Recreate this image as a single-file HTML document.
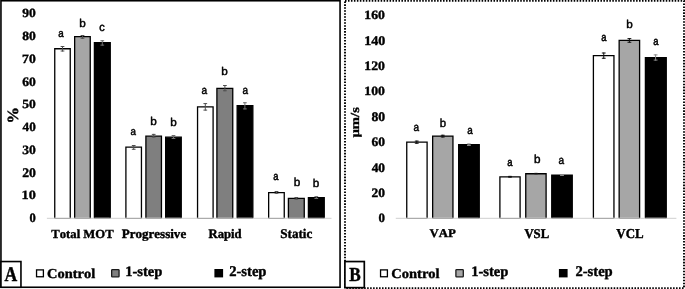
<!DOCTYPE html>
<html><head><meta charset="utf-8"><title>chart</title>
<style>
html,body{margin:0;padding:0;background:#fff;}
body{width:685px;height:289px;overflow:hidden;}
svg{display:block;will-change:transform}
text{font-family:"Liberation Serif",serif;font-weight:bold;fill:#000;font-kerning:none;text-rendering:geometricPrecision;stroke:#000;stroke-width:0.4px;stroke-linejoin:round}
.s{font-family:"Liberation Sans",sans-serif;font-weight:normal;stroke:#000;stroke-width:0.45px}
.sb{font-family:"Liberation Sans",sans-serif;font-weight:bold}
</style></head><body>
<svg width="685" height="289" viewBox="0 0 685 289">
<rect width="685" height="289" fill="#fff"/>

<rect x="0.95" y="0.75" width="339.1" height="286.5" fill="none" stroke="#000" stroke-width="1.6"/>
<line x1="46.9" x2="331.5" y1="218.3" y2="218.3" stroke="#cfcfcf" stroke-width="1"/>
<text transform="translate(29.41,222.45) scale(1,1.031)" font-size="12.51">0</text>
<text transform="translate(21.55,199.41) scale(1,0.891)" font-size="14.26">10</text>
<text transform="translate(22.21,176.68) scale(1,0.957)" font-size="13.74">20</text>
<text transform="translate(22.26,153.93) scale(1,0.935)" font-size="13.62">30</text>
<text transform="translate(22.58,131.45) scale(1,0.966)" font-size="13.14">40</text>
<text transform="translate(22.27,108.28) scale(1,0.925)" font-size="13.54">50</text>
<text transform="translate(22.27,85.9) scale(1,0.951)" font-size="13.59">60</text>
<text transform="translate(22.11,63.07) scale(1,0.939)" font-size="13.61">70</text>
<text transform="translate(22.17,40.03) scale(1,0.929)" font-size="13.63">80</text>
<text transform="translate(22.34,17.37) scale(1,0.932)" font-size="13.56">90</text>
<text transform="translate(17.67,123.53) rotate(-90) scale(1,0.945)" font-size="16.5">%</text>
<path d="M54.75 217.85V48.75H70.25V217.85" fill="#fff" stroke="#000" stroke-width="1.3"/>
<line x1="54.4" x2="70.6" y1="218.3" y2="218.3" stroke="#9a9a9a" stroke-width="0.9"/>
<path d="M62.5 46V51.5M60.65 46.5h3.7M60.65 51h3.7" stroke="#505050" stroke-width="1" fill="none"/>
<text class="s" transform="translate(58.33,37.32) scale(1,1.164)" font-size="9.75">a</text>
<path d="M74.65 217.85V36.65H90.25V217.85" fill="#a6a6a6" stroke="#000" stroke-width="1.3"/>
<line x1="74.3" x2="90.6" y1="218.3" y2="218.3" stroke="#9a9a9a" stroke-width="0.9"/>
<path d="M82.5 35V38.75M80.65 35.5h3.7M80.65 38.25h3.7" stroke="#505050" stroke-width="1" fill="none"/>
<text class="s" transform="translate(79.26,26.76) scale(1,0.968)" font-size="11.7">b</text>
<path d="M94.4 217.85V42.75H110.25V217.85" fill="#000" stroke="#000" stroke-width="1.3"/>
<line x1="94.05" x2="110.6" y1="218.3" y2="218.3" stroke="#9a9a9a" stroke-width="0.9"/>
<path d="M102.3 40.25V45.6M100.45 40.75h3.7M100.45 45.1h3.7" stroke="#6e6e6e" stroke-width="1" fill="none"/>
<text class="s" transform="translate(99.19,30.54) scale(1,1.051)" font-size="10.99">c</text>
<path d="M125.9 217.85V147.15H141.45V217.85" fill="#fff" stroke="#000" stroke-width="1.3"/>
<line x1="125.55" x2="141.8" y1="218.3" y2="218.3" stroke="#9a9a9a" stroke-width="0.9"/>
<path d="M133.7 145V149.75M131.85 145.5h3.7M131.85 149.25h3.7" stroke="#505050" stroke-width="1" fill="none"/>
<text class="s" transform="translate(130.43,135.48) scale(1,1.119)" font-size="9.75">a</text>
<path d="M145.9 217.85V136.15H161.45V217.85" fill="#7f7f7f" stroke="#000" stroke-width="1.3"/>
<line x1="145.55" x2="161.8" y1="218.3" y2="218.3" stroke="#9a9a9a" stroke-width="0.9"/>
<path d="M153.7 133.9V137.6M151.85 134.4h3.7M151.85 137.1h3.7" stroke="#505050" stroke-width="1" fill="none"/>
<text class="s" transform="translate(150.37,125.48) scale(1,0.965)" font-size="11.71">b</text>
<path d="M165.65 217.85V137.15H181.25V217.85" fill="#000" stroke="#000" stroke-width="1.3"/>
<line x1="165.3" x2="181.6" y1="218.3" y2="218.3" stroke="#9a9a9a" stroke-width="0.9"/>
<path d="M173.5 135V139M171.65 135.5h3.7M171.65 138.5h3.7" stroke="#6e6e6e" stroke-width="1" fill="none"/>
<text class="s" transform="translate(170.26,125.76) scale(1,0.968)" font-size="11.7">b</text>
<path d="M197.55 217.85V106.9H213.1V217.85" fill="#fff" stroke="#000" stroke-width="1.3"/>
<line x1="197.2" x2="213.45" y1="218.3" y2="218.3" stroke="#9a9a9a" stroke-width="0.9"/>
<path d="M205.3 103.1V110.6M203.45 103.6h3.7M203.45 110.1h3.7" stroke="#505050" stroke-width="1" fill="none"/>
<text class="s" transform="translate(201.6,93.62) scale(1,1.132)" font-size="10.09">a</text>
<path d="M216.9 217.85V88.4H232.75V217.85" fill="#7f7f7f" stroke="#000" stroke-width="1.3"/>
<line x1="216.55" x2="233.1" y1="218.3" y2="218.3" stroke="#9a9a9a" stroke-width="0.9"/>
<path d="M224.9 85V91.25M223.05 85.5h3.7M223.05 90.75h3.7" stroke="#505050" stroke-width="1" fill="none"/>
<text class="s" transform="translate(221.23,75.43) scale(1,0.962)" font-size="11.7">b</text>
<path d="M237.15 217.85V105.65H252.85V217.85" fill="#000" stroke="#000" stroke-width="1.3"/>
<line x1="236.8" x2="253.2" y1="218.3" y2="218.3" stroke="#9a9a9a" stroke-width="0.9"/>
<path d="M244.9 102.25V109.4M243.05 102.75h3.7M243.05 108.9h3.7" stroke="#6e6e6e" stroke-width="1" fill="none"/>
<text class="s" transform="translate(242.51,93.57) scale(1,1.174)" font-size="9.94">a</text>
<path d="M268.65 217.85V192.55H284.25V217.85" fill="#fff" stroke="#000" stroke-width="1.3"/>
<line x1="268.3" x2="284.6" y1="218.3" y2="218.3" stroke="#9a9a9a" stroke-width="0.9"/>
<path d="M276.5 191V193.75M274.65 191.5h3.7M274.65 193.25h3.7" stroke="#505050" stroke-width="1" fill="none"/>
<text class="s" transform="translate(273.14,179.95) scale(1,1.213)" font-size="9.4">a</text>
<path d="M288.4 217.85V198.4H304.25V217.85" fill="#7f7f7f" stroke="#000" stroke-width="1.3"/>
<line x1="288.05" x2="304.6" y1="218.3" y2="218.3" stroke="#9a9a9a" stroke-width="0.9"/>
<path d="M296.3 197V199.6M294.45 197.5h3.7M294.45 199.1h3.7" stroke="#505050" stroke-width="1" fill="none"/>
<text class="s" transform="translate(293.76,185.71) scale(1,0.985)" font-size="11.79">b</text>
<path d="M308.4 217.85V197.55H324.25V217.85" fill="#000" stroke="#000" stroke-width="1.3"/>
<line x1="308.05" x2="324.6" y1="218.3" y2="218.3" stroke="#9a9a9a" stroke-width="0.9"/>
<path d="M316.3 196.1V199M314.45 196.6h3.7M314.45 198.5h3.7" stroke="#6e6e6e" stroke-width="1" fill="none"/>
<text class="s" transform="translate(312.87,187.48) scale(1,0.988)" font-size="11.69">b</text>
<text transform="translate(51.29,237.67) scale(1,0.973)" font-size="12.7">Total MOT</text>
<text transform="translate(121.7,237.76) scale(1,0.988)" font-size="13.05">Progressive</text>
<text transform="translate(208.56,237.81) scale(1,1.024)" font-size="12.67">Rapid</text>
<text transform="translate(280.18,237.87) scale(1,1.013)" font-size="13.16">Static</text>
<rect x="0.95" y="261.55" width="20" height="25.7" fill="#fff" stroke="#000" stroke-width="1.6"/>
<text transform="translate(4.46,281.03) scale(1,1.190)" font-size="17.59">A</text>
<rect x="36.55" y="269.9" width="6.85" height="6.85" fill="#fff" stroke="#000" stroke-width="1.3"/>
<text transform="translate(47.03,277.8) scale(1,0.944)" font-size="14.44">Control</text>
<rect x="111.65" y="269.65" width="7.4" height="7.2" rx="0.7" fill="#7f7f7f" stroke="#1a1a1a" stroke-width="1.3"/>
<text transform="translate(125.14,276.3) scale(1,0.998)" font-size="14.59">1-step</text>
<rect x="214.4" y="269" width="8.7" height="8.4" fill="#000"/>
<text transform="translate(229.17,276.41) scale(1,1.016)" font-size="14.62">2-step</text>
<rect x="345" y="0.9" width="339" height="287.2" fill="none" stroke="#000" stroke-width="1.9" stroke-dasharray="1.55 1.42"/>
<line x1="395.75" x2="676.4" y1="218.3" y2="218.3" stroke="#cfcfcf" stroke-width="1"/>
<text transform="translate(378.58,222.31) scale(1,1.011)" font-size="12.83">0</text>
<text transform="translate(371.47,196.92) scale(1,0.951)" font-size="13.47">20</text>
<text transform="translate(371.66,171.71) scale(1,0.972)" font-size="13.38">40</text>
<text transform="translate(371.5,146.49) scale(1,0.956)" font-size="13.47">60</text>
<text transform="translate(371.4,120.56) scale(1,0.955)" font-size="13.72">80</text>
<text transform="translate(364.37,95.21) scale(1,0.923)" font-size="13.76">100</text>
<text transform="translate(364.34,69.83) scale(1,0.940)" font-size="13.79">120</text>
<text transform="translate(364.18,44.58) scale(1,0.948)" font-size="14.06">140</text>
<text transform="translate(364.36,19.31) scale(1,0.923)" font-size="13.76">160</text>
<text transform="translate(359.23,137.61) rotate(-90) scale(1,0.841)" font-size="14.69">µm/s</text>
<path d="M406.75 217.85V142.15H427.1V217.85" fill="#fff" stroke="#000" stroke-width="1.3"/>
<line x1="406.4" x2="427.45" y1="218.3" y2="218.3" stroke="#9a9a9a" stroke-width="0.9"/>
<path d="M416.75 140.6V143.75M414.85 141.1h3.8M414.85 143.25h3.8" stroke="#111" stroke-width="1" fill="none"/>
<text class="s" transform="translate(413.48,131) scale(1,1.152)" font-size="9.96">a</text>
<path d="M432.65 217.85V136.05H452.95V217.85" fill="#a6a6a6" stroke="#000" stroke-width="1.3"/>
<line x1="432.3" x2="453.3" y1="218.3" y2="218.3" stroke="#9a9a9a" stroke-width="0.9"/>
<path d="M442.75 134.75V137.5M440.85 135.25h3.8M440.85 137h3.8" stroke="#111" stroke-width="1" fill="none"/>
<text class="s" transform="translate(439.77,126.78) scale(1,1.038)" font-size="11.35">b</text>
<path d="M458.65 217.85V144.65H479.25V217.85" fill="#000" stroke="#000" stroke-width="1.3"/>
<line x1="458.3" x2="479.6" y1="218.3" y2="218.3" stroke="#9a9a9a" stroke-width="0.9"/>
<path d="M468.9 143.5V146M467 144h3.8M467 145.5h3.8" stroke="#8a8a8a" stroke-width="1" fill="none"/>
<text class="s" transform="translate(467.24,134.05) scale(1,1.151)" font-size="9.88">a</text>
<path d="M499.9 217.85V176.9H520.1V217.85" fill="#fff" stroke="#000" stroke-width="1.3"/>
<line x1="499.55" x2="520.45" y1="218.3" y2="218.3" stroke="#9a9a9a" stroke-width="0.9"/>
<path d="M510 175.9V177.6M508.1 176.4h3.8M508.1 177.1h3.8" stroke="#111" stroke-width="1" fill="none"/>
<text class="s" transform="translate(507.33,166.23) scale(1,1.202)" font-size="9.46">a</text>
<path d="M525.75 217.85V173.75H546.1V217.85" fill="#a6a6a6" stroke="#000" stroke-width="1.3"/>
<line x1="525.4" x2="546.45" y1="218.3" y2="218.3" stroke="#9a9a9a" stroke-width="0.9"/>
<path d="M536 172.9V174.2M534.1 173.4h3.8M534.1 173.7h3.8" stroke="#111" stroke-width="1" fill="none"/>
<text class="s" transform="translate(533.99,162.8) scale(1,0.996)" font-size="11.72">b</text>
<path d="M551.75 217.85V175.05H572.25V217.85" fill="#000" stroke="#000" stroke-width="1.3"/>
<line x1="551.4" x2="572.6" y1="218.3" y2="218.3" stroke="#9a9a9a" stroke-width="0.9"/>
<path d="M562 174.3V176M560.1 174.8h3.8M560.1 175.5h3.8" stroke="#8a8a8a" stroke-width="1" fill="none"/>
<text class="s" transform="translate(558.62,163.64) scale(1,1.142)" font-size="10.03">a</text>
<path d="M593.4 217.85V55.65H613.95V217.85" fill="#fff" stroke="#000" stroke-width="1.3"/>
<line x1="593.05" x2="614.3" y1="218.3" y2="218.3" stroke="#9a9a9a" stroke-width="0.9"/>
<path d="M603.75 52.5V58.75M601.85 53h3.8M601.85 58.25h3.8" stroke="#111" stroke-width="1" fill="none"/>
<text class="s" transform="translate(601.14,40.95) scale(1,1.213)" font-size="9.4">a</text>
<path d="M619.15 217.85V40.4H639.6V217.85" fill="#a6a6a6" stroke="#000" stroke-width="1.3"/>
<line x1="618.8" x2="639.95" y1="218.3" y2="218.3" stroke="#9a9a9a" stroke-width="0.9"/>
<path d="M629.4 38.1V42.75M627.5 38.6h3.8M627.5 42.25h3.8" stroke="#111" stroke-width="1" fill="none"/>
<text class="s" transform="translate(626.26,28.36) scale(1,0.968)" font-size="11.7">b</text>
<path d="M645.4 217.85V57.55H666.25V217.85" fill="#000" stroke="#000" stroke-width="1.3"/>
<line x1="645.05" x2="666.6" y1="218.3" y2="218.3" stroke="#9a9a9a" stroke-width="0.9"/>
<path d="M655.6 54.4V60.6M653.7 54.9h3.8M653.7 60.1h3.8" stroke="#8a8a8a" stroke-width="1" fill="none"/>
<text class="s" transform="translate(653.35,45.19) scale(1,1.207)" font-size="9.42">a</text>
<text transform="translate(429.51,237.29) scale(1,0.938)" font-size="12.8">VAP</text>
<text transform="translate(524.41,237.54) scale(1,1.044)" font-size="12.75">VSL</text>
<text transform="translate(616.37,237.8) scale(1,1.053)" font-size="12.94">VCL</text>
<rect x="344.9" y="261.55" width="19.4" height="26.1" fill="#fff" stroke="#000" stroke-width="1.7"/>
<text transform="translate(349.31,281.25) scale(1,1.159)" font-size="17.18">B</text>
<rect x="380.55" y="269.9" width="6.85" height="6.85" fill="#fff" stroke="#000" stroke-width="1.3"/>
<text transform="translate(391.25,277.89) scale(1,0.940)" font-size="14.52">Control</text>
<rect x="455.9" y="269.65" width="7.4" height="7.2" rx="0.7" fill="#a6a6a6" stroke="#1a1a1a" stroke-width="1.3"/>
<text transform="translate(471.14,276.3) scale(1,0.998)" font-size="14.59">1-step</text>
<rect x="558.9" y="269" width="8.7" height="8.4" fill="#000"/>
<text transform="translate(575.42,276.41) scale(1,1.016)" font-size="14.62">2-step</text>
</svg></body></html>
